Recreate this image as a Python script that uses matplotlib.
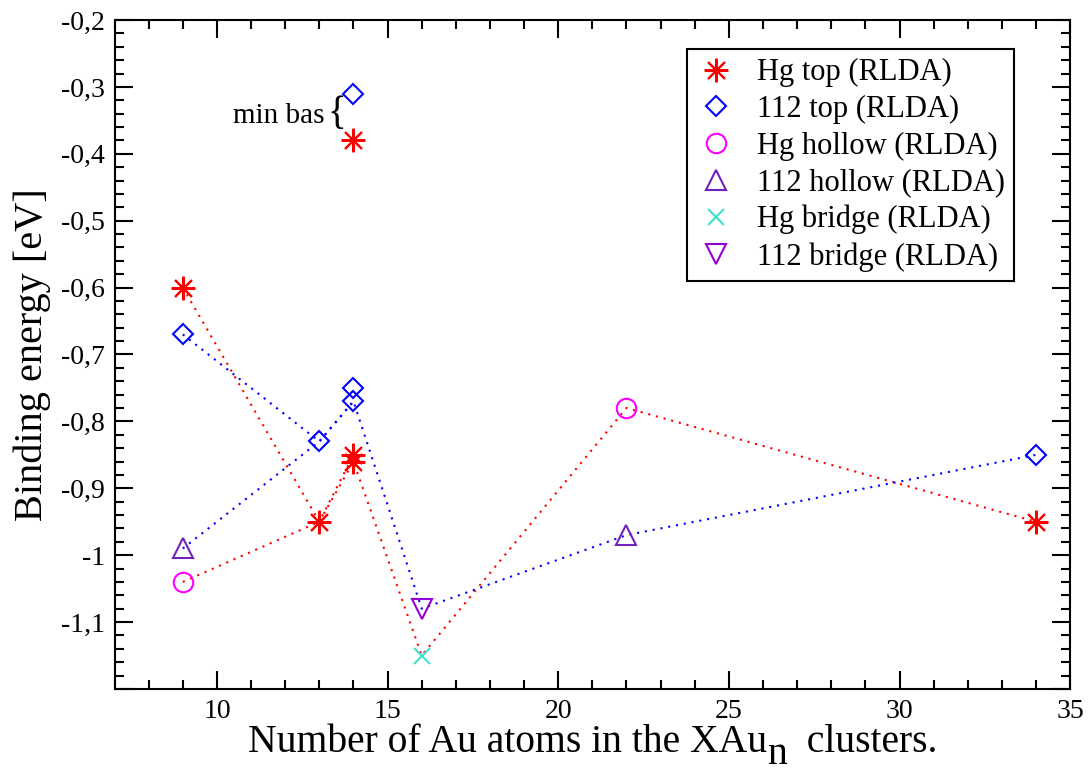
import matplotlib
matplotlib.use("Agg")
import matplotlib.pyplot as plt
from matplotlib.ticker import MultipleLocator, FuncFormatter, FixedLocator
from matplotlib.transforms import offset_copy

plt.rcParams['font.family'] = ['Liberation Serif', 'DejaVu Serif']

# Binding energies (eV) per adsorption site, by number of Au atoms
hg_top_x = [9, 13, 14, 14, 34, 14]
hg_top_y = [-0.60, -0.95, -0.85, -0.86, -0.95, -0.38]
e112_top_x = [9, 13, 14, 14, 34, 14]
e112_top_y = [-0.67, -0.83, -0.75, -0.77, -0.85, -0.31]
hg_hollow_x = [9, 22]
hg_hollow_y = [-1.04, -0.78]
e112_hollow_x = [9, 22]
e112_hollow_y = [-0.99, -0.97]
hg_bridge_x = [16]
hg_bridge_y = [-1.15]
e112_bridge_x = [16]
e112_bridge_y = [-1.08]

# Connecting trends
hg_trend_top_x = [9, 13, 14]
hg_trend_top_y = [-0.60, -0.95, -0.85]
hg_trend_min_x = [9, 13, 14, 16, 22, 34]
hg_trend_min_y = [-1.04, -0.95, -0.86, -1.15, -0.78, -0.95]
e112_trend_top_x = [9, 13, 14]
e112_trend_top_y = [-0.67, -0.83, -0.77]
e112_trend_min_x = [9, 13, 14, 16, 22, 34]
e112_trend_min_y = [-0.99, -0.83, -0.77, -1.08, -0.97, -0.85]

x_ticks = [10, 15, 20, 25, 30, 35]

RED = '#ff0000'
BLUE = '#0000ff'
MAGENTA = '#ff00ff'
INDIGO = '#7221bc'
TURQ = '#40e0d0'
VIOLET = '#9400d3'

fig = plt.figure(figsize=(10.92, 7.73), dpi=100)
ax = fig.add_axes([0.1049, 0.1087, 0.8751, 0.8654])

dotted = (0, (1, 2.8))
for xs, ys, c in [(hg_trend_top_x, hg_trend_top_y, RED),
                  (hg_trend_min_x, hg_trend_min_y, RED),
                  (e112_trend_top_x, e112_trend_top_y, BLUE),
                  (e112_trend_min_x, e112_trend_min_y, BLUE)]:
    ax.plot(xs, ys, color=c, linestyle=dotted, linewidth=1.5, zorder=2)

mew = 1.5
ax.plot(hg_top_x, hg_top_y, linestyle='none', marker=(8, 2, 0), ms=17,
        mec=RED, mew=mew, label='Hg top (RLDA)', zorder=3)
ax.plot(e112_top_x, e112_top_y, linestyle='none', marker='D', ms=10.5,
        mec=BLUE, mfc='none', mew=mew, label='112 top (RLDA)', zorder=3)
ax.plot(hg_hollow_x, hg_hollow_y, linestyle='none', marker='o', ms=14,
        mec=MAGENTA, mfc='none', mew=mew, label='Hg hollow (RLDA)', zorder=3)
ax.plot(e112_hollow_x, e112_hollow_y, linestyle='none', marker='^', ms=14,
        mec=INDIGO, mfc='none', mew=mew, label='112 hollow (RLDA)', zorder=3)
ax.plot(hg_bridge_x, hg_bridge_y, linestyle='none', marker='x', ms=12,
        mec=TURQ, mew=mew, label='Hg bridge (RLDA)', zorder=3)
ax.plot(e112_bridge_x, e112_bridge_y, linestyle='none', marker='v', ms=14,
        mec=VIOLET, mfc='none', mew=mew, label='112 bridge (RLDA)', zorder=3)

ax.set_xlim(7, 35)
ax.set_ylim(-1.2, -0.2)
ax.xaxis.set_major_locator(FixedLocator(x_ticks))
ax.xaxis.set_minor_locator(MultipleLocator(1))
ax.yaxis.set_major_locator(MultipleLocator(0.1))
ax.yaxis.set_minor_locator(MultipleLocator(0.02))


def comma_fmt(v, pos):
    if v < -1.15:
        return ''
    s = f"{v:.1f}".rstrip('0').rstrip('.')
    return s.replace('.', ',')


ax.yaxis.set_major_formatter(FuncFormatter(comma_fmt))
ax.tick_params(which='both', direction='in', top=True, right=True, width=1.5)
ax.tick_params(which='major', length=13, labelsize=20, pad=7)
ax.tick_params(which='minor', length=6.5)
for sp in ax.spines.values():
    sp.set_linewidth(1.5)

ax.set_ylabel('Binding energy [eV]', fontsize=29, labelpad=7)

# x label with a full-size, lowered subscript
fig.canvas.draw()
renderer = fig.canvas.get_renderer()
label_fs = 28.5
part1 = 'Number of Au atoms in the XAu'
part2 = 'n'
part3 = '  clusters.'
y_base = 1 - 752 / 773
pieces = [fig.text(0, y_base, p, fontsize=label_fs, ha='left', va='baseline')
          for p in (part1, part2, part3)]
widths = [t.get_window_extent(renderer).width for t in pieces]
total = sum(widths)
center_px = (ax.get_position().x0 + ax.get_position().x1) / 2 * fig.bbox.width
x0 = center_px - total / 2
drops = [0, -12, 0]
cursor = x0
for t, w, d in zip(pieces, widths, drops):
    t.set_transform(offset_copy(fig.transFigure, fig=fig, x=cursor, y=d, units='dots'))
    cursor += w

ax.text(13.14, -0.354, 'min bas', fontsize=21, ha='right', va='baseline')
ax.text(13.24, -0.341, '{', fontsize=28, ha='left', va='center')

leg = ax.legend(loc='upper right', bbox_to_anchor=(0.9414, 0.9567), fontsize=22,
                frameon=True, fancybox=False, framealpha=1, edgecolor='black',
                borderpad=0.3, handlelength=1.29, handletextpad=0.69,
                labelspacing=0.25, borderaxespad=0)
leg.get_frame().set_linewidth(1.5)

fig.savefig('out.png', dpi=100)
